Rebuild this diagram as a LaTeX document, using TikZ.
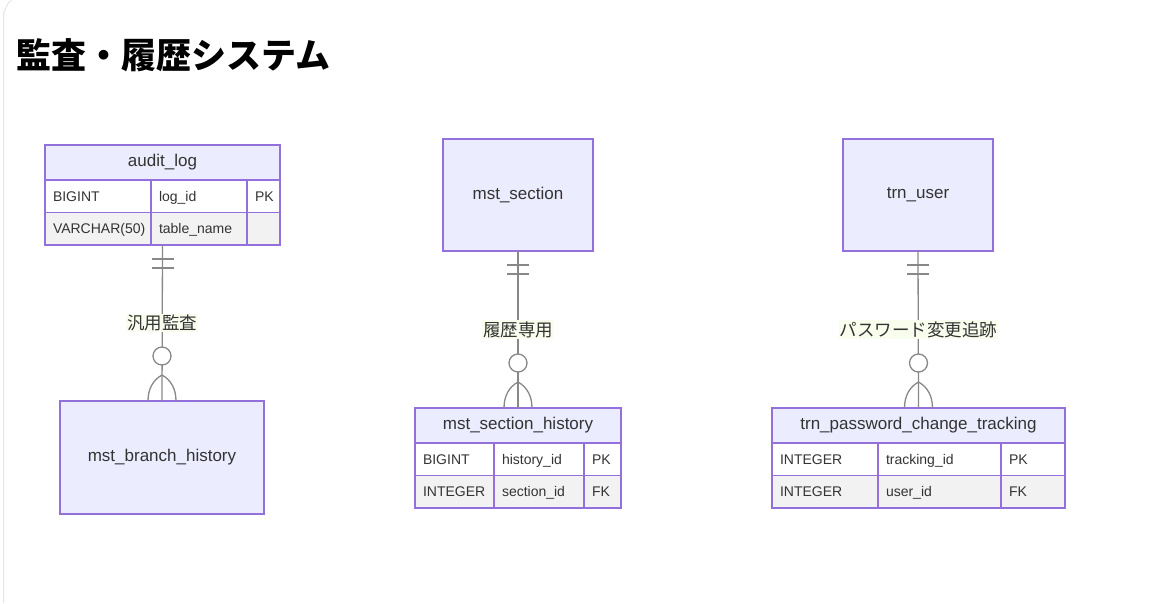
\documentclass[tikz,border=0pt]{standalone}
\usepackage{fontspec}
\setmainfont{Liberation Sans}
\newfontfamily\cjk{Noto Sans CJK JP}
\usepackage{tikz}
\usetikzlibrary{positioning,calc}
\definecolor{entfill}{HTML}{ECECFF}
\definecolor{entline}{HTML}{9370DB}
\definecolor{rowgray}{HTML}{F2F2F2}
\definecolor{relline}{HTML}{888888}
\definecolor{lblbg}{HTML}{F9FDEE}
\definecolor{txt}{HTML}{333333}
\definecolor{card}{HTML}{E6E6E6}
% one-to-many connector: parent point, child node, label
\newcommand{\onetomany}[3]{%
  \draw[rel] (#1) -- node[lbl] {#3} (#2.north);
  \draw[rel] ($(#1)+(-11,14)$) -- ++(22,0);
  \draw[rel] ($(#1)+(-11,23)$) -- ++(22,0);
  \draw[rel, fill=white] ($(#2.north)+(0,-45)$) circle[radius=9pt];
  \draw[rel] ($(#2.north)+(0,-26)$) .. controls +(-9,5) and +(0,-12) .. ($(#2.north)+(-14,0)$);
  \draw[rel] ($(#2.north)+(0,-26)$) .. controls +(9,5) and +(0,-12) .. ($(#2.north)+(14,0)$);
}

\begin{document}
\begin{tikzpicture}[x=1pt, y=-1pt, node distance=0pt,
  ttl/.style={font=\cjk\bfseries\fontsize{35}{40}\selectfont, inner sep=0pt, anchor=base west},
  ent/.style={draw=entline, fill=entfill, line width=1.3pt, outer sep=0pt, text=txt, font=\fontsize{17}{20}\selectfont, anchor=north west},
  hdr/.style={ent, minimum height=35pt},
  cell/.style={draw=entline, line width=1.3pt, outer sep=0pt, minimum height=32.5pt, inner xsep=8pt, inner ysep=0pt, text height=12.5pt, text depth=2.5pt, align=left, text=txt, font=\fontsize{14}{16}\selectfont},
  odd/.style={cell, fill=white},
  even/.style={cell, fill=rowgray},
  rel/.style={draw=relline, line width=1.3pt},
  lbl/.style={fill=lblbg, inner sep=1pt, text=txt, font=\cjk\fontsize{17.5}{20}\selectfont}]
\useasboundingbox (0,0) rectangle (1170,603);
\draw[card, line width=1pt] (3.5,603) -- (3.5,12) to[out=-90, in=180] (12,0.5);

\node[ttl] (title) at (16,68) {監査・履歴システム};

% audit_log
\node[hdr, minimum width=235pt] (al) at (45,145) {audit\_log};
\node[odd, text width=90pt, below right=0pt and 0pt of al.south west] (al1) {BIGINT};
\node[odd, text width=80pt, right=of al1] (al2) {log\_id};
\node[odd, text width=17pt, right=of al2] (al3) {PK};
\node[even, text width=90pt, below=of al1] (al4) {VARCHAR(50)};
\node[even, text width=80pt, right=of al4] (al5) {table\_name};
\node[even, text width=17pt, right=of al5] (al6) {};
\node[ent, minimum width=204pt, minimum height=113pt] (mbh) at (60,401) {mst\_branch\_history};

% mst_section
\node[ent, minimum width=150pt, minimum height=112pt] (ms) at (443,139) {mst\_section};
\node[hdr, minimum width=206pt] (sh) at (415,408) {mst\_section\_history};
\node[odd, text width=63pt, below right=0pt and 0pt of sh.south west] (sh1) {BIGINT};
\node[odd, text width=74pt, right=of sh1] (sh2) {history\_id};
\node[odd, text width=21pt, right=of sh2] (sh3) {PK};
\node[even, text width=63pt, below=of sh1] (sh4) {INTEGER};
\node[even, text width=74pt, right=of sh4] (sh5) {section\_id};
\node[even, text width=21pt, right=of sh5] (sh6) {FK};

% trn_user
\node[ent, minimum width=150pt, minimum height=112pt] (tu) at (843,139) {trn\_user};
\node[hdr, minimum width=293pt] (tp) at (772,408) {trn\_password\_change\_tracking};
\node[odd, text width=90pt, below right=0pt and 0pt of tp.south west] (tp1) {INTEGER};
\node[odd, text width=107pt, right=of tp1] (tp2) {tracking\_id};
\node[odd, text width=48pt, right=of tp2] (tp3) {PK};
\node[even, text width=90pt, below=of tp1] (tp4) {INTEGER};
\node[even, text width=107pt, right=of tp4] (tp5) {user\_id};
\node[even, text width=48pt, right=of tp5] (tp6) {FK};

\coordinate (alb) at ($(al4.south west)!0.5!(al6.south east)$);
\onetomany{alb}{mbh}{汎用監査}
\onetomany{ms.south}{sh}{履歴専用}
\onetomany{tu.south}{tp}{パスワード変更追跡}
\end{tikzpicture}
\end{document}
